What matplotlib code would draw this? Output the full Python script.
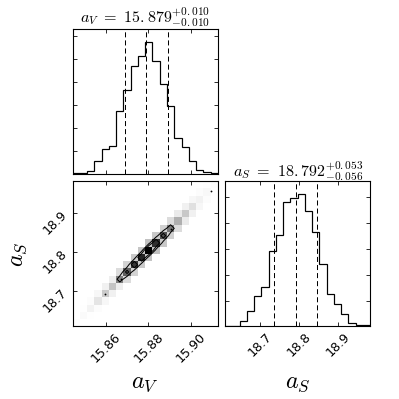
import numpy as np
import matplotlib
matplotlib.use("Agg")
import matplotlib.pyplot as plt
from matplotlib.ticker import MaxNLocator, FixedLocator

plt.rcParams['mathtext.fontset'] = 'cm'
plt.rcParams['font.family'] = ['DejaVu Sans']
plt.rcParams['font.size'] = 12

# ---------------- data ----------------
labels = [r"a_V", r"a_S"]
range_aV = [15.8442, 15.9127]
range_aS = [18.610, 18.982]
n_bins = 20

counts_aV = [1, 1, 6, 29, 55, 61, 137, 183, 235, 256, 287, 245, 196, 148, 79, 58, 28, 8, 4, 2]
counts_aS = [1, 1, 11, 30, 58, 77, 147, 178, 241, 249, 256, 223, 183, 121, 63, 43, 25, 6, 2, 2]

quant_aV = [15.869, 15.879, 15.889]
quant_aS = [18.736, 18.792, 18.845]
title_aV = ["15.879", "0.010", "0.010"]
title_aS = ["18.792", "0.053", "0.056"]

ticks_aV = [15.86, 15.88, 15.90]
ticks_aS = [18.7, 18.8, 18.9]

# 2D histogram (a_V bin i, a_S bin j): diagonal and neighbouring cells
H_diag = [3, 6, 14, 30, 60, 66, 140, 180, 225, 245, 287, 235, 195, 150, 90, 62, 35, 15, 8, 4]
H_upper = [1, 2, 4, 10, 16, 20, 40, 50, 60, 66, 70, 62, 52, 40, 24, 16, 9, 4, 2]
H_lower = [1, 2, 4, 10, 16, 20, 40, 50, 60, 66, 70, 62, 52, 40, 24, 16, 9, 4, 2]
contour_levels = [95, 150]

stuck_aV = [15.8597, 15.8668, 15.8904, 15.9094]
stuck_aS = [18.694, 18.7307, 18.860, 18.956]


def fmt(s):
    return s.replace('.', '.{}')


def make_title(lab, t):
    return r"$%s\ =\ %s_{-%s}^{+%s}$" % (lab, fmt(t[0]), fmt(t[2]), fmt(t[1]))


# ---------------- layout (corner style) ----------------
fig = plt.figure(figsize=(5.5, 5.5), dpi=72.6)
lb = 1.0 / 5.5
size = 2.0 / 5.5
gap = 0.1 / 5.5
ax00 = fig.add_axes([lb, lb + size + gap, size, size])
ax10 = fig.add_axes([lb, lb, size, size])
ax11 = fig.add_axes([lb + size + gap, lb, size, size])

edges_aV = np.linspace(range_aV[0], range_aV[1], n_bins + 1)
edges_aS = np.linspace(range_aS[0], range_aS[1], n_bins + 1)


def style(ax):
    ax.tick_params(direction='in', top=True, right=True, length=4, width=0.8,
                   labelsize=12.5)
    for sp in ax.spines.values():
        sp.set_linewidth(1.1)


def hist_panel(ax, counts, edges, quants, ticks, rng, title):
    ax.stairs(counts, edges, color='k', lw=1.2)
    for q in quants:
        ax.axvline(q, color='k', ls=(0, (5, 3)), lw=1.0)
    ax.set_xlim(rng)
    ax.set_ylim(0, 1.1 * max(counts))
    ax.yaxis.set_major_locator(MaxNLocator(nbins=9, steps=[1, 2, 5, 10]))
    ax.set_yticklabels([])
    ax.xaxis.set_major_locator(FixedLocator(ticks))
    ax.set_title(title, fontsize=16, pad=5)
    style(ax)


hist_panel(ax00, counts_aV, edges_aV, quant_aV, ticks_aV, range_aV,
           make_title(labels[0], title_aV))
ax00.set_xticklabels([])

hist_panel(ax11, counts_aS, edges_aS, quant_aS, ticks_aS, range_aS,
           make_title(labels[1], title_aS))
ax11.set_xticklabels([str(t) for t in ticks_aS], rotation=45)
ax11.set_xlabel("$%s$" % labels[1], fontsize=24)
ax11.xaxis.set_label_coords(0.5, -0.3)

# 2D panel
H = np.diag(H_diag).astype(float) + np.diag(H_upper, 1) + np.diag(H_lower, -1)
ax10.pcolormesh(edges_aV, edges_aS, H.T, cmap='gray_r', vmin=0, vmax=H.max())
cx = 0.5 * (edges_aV[1:] + edges_aV[:-1])
cy = 0.5 * (edges_aS[1:] + edges_aS[:-1])
ax10.contour(cx, cy, H.T, contour_levels, colors='k', linewidths=1.0,
             algorithm='mpl2005')
ax10.plot(stuck_aV, stuck_aS, 'o', color='k', ms=1.8, mew=0)
ax10.set_xlim(range_aV)
ax10.set_ylim(range_aS)
ax10.xaxis.set_major_locator(FixedLocator(ticks_aV))
ax10.yaxis.set_major_locator(FixedLocator(ticks_aS))
ax10.set_xticklabels(["%.2f" % t for t in ticks_aV], rotation=45)
ax10.set_yticklabels([str(t) for t in ticks_aS], rotation=45)
ax10.set_xlabel("$%s$" % labels[0], fontsize=24)
ax10.set_ylabel("$%s$" % labels[1], fontsize=24)
ax10.xaxis.set_label_coords(0.5, -0.3)
ax10.yaxis.set_label_coords(-0.3, 0.5)
style(ax10)

fig.savefig("out.png", dpi=72.6, facecolor='white')
